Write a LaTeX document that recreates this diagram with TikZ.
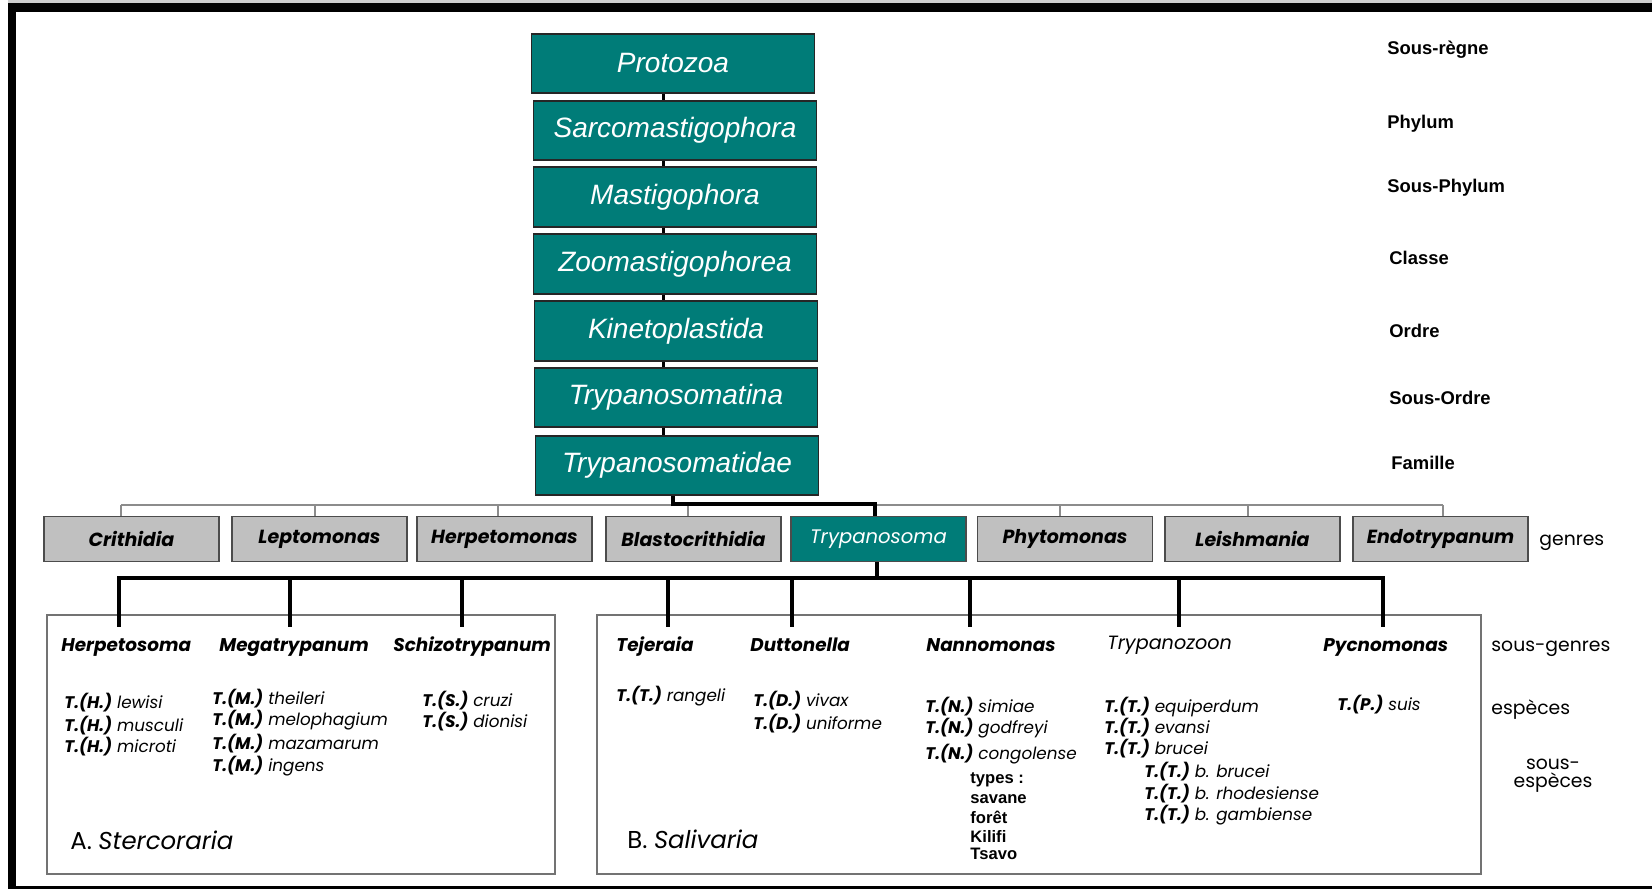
\documentclass[tikz,border=0pt]{standalone}
\usepackage{fontspec}
\setmainfont{Liberation Sans}
\newfontfamily\geo{Poppins}
\usetikzlibrary{calc}
\definecolor{tealc}{RGB}{0,124,120}
\definecolor{grayc}{RGB}{192,192,192}
\newcommand\spname[2]{\textbf{#1} #2}
\begin{document}
\begin{tikzpicture}[x=0.5pt,y=-0.5pt,
  tealbox/.style={draw=black!85, line width=0.9pt, fill=tealc, text=white,
    font=\fontsize{14}{16}\selectfont\itshape, minimum width=141.5pt,
    minimum height=29.8pt, inner sep=0pt},
  genbox/.style={draw=black!70, line width=0.9pt, fill=grayc,
    minimum width=87.5pt, minimum height=22.5pt, inner sep=0pt,
    font=\geo\fontsize{9.5}{11}\selectfont\bfseries\itshape},
  genteal/.style={genbox, fill=tealc, text=white, font=\geo\fontsize{9.8}{11}\selectfont\itshape},
  rank/.style={anchor=west, inner sep=0pt, text height=1.5ex, text depth=.3ex,
    font=\fontsize{9.2}{11}\selectfont\bfseries},
  lvl/.style={anchor=west, inner sep=0pt, text height=1.5ex, text depth=.3ex,
    font=\geo\fontsize{9.4}{11}\selectfont},
  subg/.style={anchor=west, inner sep=0pt, text height=1.5ex, text depth=.3ex,
    font=\geo\fontsize{9.2}{12}\selectfont\bfseries\itshape},
  subgl/.style={subg, font=\geo\fontsize{9.6}{12}\selectfont\itshape},
  spc/.style={anchor=west, inner sep=0pt, text height=1.5ex, text depth=.3ex,
    font=\geo\fontsize{8.4}{10}\selectfont\itshape},
  typ/.style={anchor=west, inner sep=0pt, text height=1.5ex, text depth=.3ex,
    font=\fontsize{8.3}{10}\selectfont\bfseries},
  grp/.style={anchor=west, inner sep=0pt, text height=1.5ex, text depth=.3ex,
    font=\geo\fontsize{12.2}{14}\selectfont},
  conn/.style={draw=black, line width=1.5pt},
  gline/.style={draw=black!45, line width=1pt},
  bline/.style={draw=black, line width=1.6pt},
  cbox/.style={draw=black!55, line width=1pt}
]
\useasboundingbox (0,0) rectangle (1652,889);
% frame
\fill[black!20] (8,0) rectangle (1652,3);
\fill[black] (8,3) rectangle (1652,12);
\fill[black] (8,3) rectangle (16,889);
\fill[black] (8,886) rectangle (1652,889);

% taxonomy stack
\node[tealbox] (proto) at (673,63.5) {Protozoa};
\node[tealbox] (sarco) at (675,130.5) {Sarcomastigophora};
\node[tealbox] (masti) at (675,197) {Mastigophora};
\node[tealbox] (zoo) at (675,264) {Zoomastigophorea};
\node[tealbox] (kin) at (676,331) {Kinetoplastida};
\node[tealbox] (tina) at (676,397.5) {Trypanosomatina};
\node[tealbox] (tidae) at (677,465.5) {Trypanosomatidae};
\coordinate (cx) at (663,0);
\draw[conn] (proto.south -| cx) -- (sarco.north -| cx);
\draw[conn] (sarco.south -| cx) -- (masti.north -| cx);
\draw[conn] (masti.south -| cx) -- (zoo.north -| cx);
\draw[conn] (zoo.south -| cx) -- (kin.north -| cx);
\draw[conn] (kin.south -| cx) -- (tina.north -| cx);
\draw[conn] (tina.south -| cx) -- (tidae.north -| cx);

% ranks
\node[rank] (r1) at (1387,48) {Sous-règne};
\node[rank] (r2) at (1387,122) {Phylum};
\node[rank] (r3) at (1387,186) {Sous-Phylum};
\node[rank] (r4) at (1389,258) {Classe};
\node[rank] (r5) at (1389,331) {Ordre};
\node[rank] (r6) at (1389,398) {Sous-Ordre};
\node[rank] (r7) at (1391,463) {Famille};

% genera
\node[genbox] (crith) at (131.5,539) {Crithidia};
\node[genbox] (lepto) at (319.5,539) {Leptomonas};
\node[genbox] (herp) at (504.5,539) {Herpetomonas};
\node[genbox] (blasto) at (693.5,539) {Blastocrithidia};
\node[genteal] (trypa) at (878.5,539) {Trypanosoma};
\node[genbox] (phyto) at (1065,539) {Phytomonas};
\node[genbox] (leish) at (1252.5,539) {Leishmania};
\node[genbox] (endo) at (1440.5,539) {Endotrypanum};
\node[lvl] (genres) at (1539,539) {genres};

% gray bus to genera
\coordinate (g1) at (121,505);
\coordinate (g2) at (315,505);
\coordinate (g3) at (498,505);
\coordinate (g4) at (688,505);
\coordinate (g6) at (1060,505);
\coordinate (g7) at (1248,505);
\coordinate (g8) at (1443,505);
\draw[gline] (g1) -- (g8);
\draw[gline] (g1) -- (g1 |- crith.north);
\draw[gline] (g2) -- (g2 |- lepto.north);
\draw[gline] (g3) -- (g3 |- herp.north);
\draw[gline] (g4) -- (g4 |- blasto.north);
\draw[gline] (g6) -- (g6 |- phyto.north);
\draw[gline] (g7) -- (g7 |- leish.north);
\draw[gline] (g8) -- (g8 |- endo.north);

% black path to Trypanosoma
\coordinate (fam) at (673,504);
\coordinate (tj) at (875,504);
\draw[bline, line join=miter] (tidae.south -| fam) -- (fam) -- (tj) -- (tj |- trypa.north);

% groups boxes
\draw[cbox] (47,615) rectangle (555,874);
\draw[cbox] (597,615) rectangle (1481,874);

% black bus to subgenera
\coordinate (tb) at (877,578);
\draw[bline] (trypa.south -| tb) -- (tb);
\coordinate (e1) at (119,627);
\coordinate (e2) at (290,627);
\coordinate (e3) at (462,627);
\coordinate (e4) at (668,627);
\coordinate (e5) at (792,627);
\coordinate (e6) at (970,627);
\coordinate (e7) at (1179,627);
\coordinate (e8) at (1383,627);
\draw[bline, line cap=rect] (e1 |- tb) -- (e8 |- tb);
\foreach \k in {1,...,8} { \draw[bline] (e\k |- tb) -- (e\k); }

% subgenera
\node[subg] (sg1) at (61,645) {Herpetosoma};
\node[subg] (sg2) at (219,645) {Megatrypanum};
\node[subg] (sg3) at (393,645) {Schizotrypanum};
\node[subg] (sg4) at (616,645) {Tejeraia};
\node[subg] (sg5) at (750,645) {Duttonella};
\node[subg] (sg6) at (926,645) {Nannomonas};
\node[subgl] (sg7) at (1107,643) {Trypanozoon};
\node[subg] (sg8) at (1323,645) {Pycnomonas};
\node[lvl] (lsg) at (1491,645) {sous-genres};

% species A
\node[spc] (a1) at (64,702) {\spname{T.(H.)}{lewisi}};
\node[spc] (a2) at (64,725) {\spname{T.(H.)}{musculi}};
\node[spc] (a3) at (64,746) {\spname{T.(H.)}{microti}};
\node[spc] (a4) at (212,698) {\spname{T.(M.)}{theileri}};
\node[spc] (a5) at (212,719) {\spname{T.(M.)}{melophagium}};
\node[spc] (a6) at (212,743) {\spname{T.(M.)}{mazamarum}};
\node[spc] (a7) at (212,765) {\spname{T.(M.)}{ingens}};
\node[spc] (a8) at (422,700) {\spname{T.(S.)}{cruzi}};
\node[spc] (a9) at (422,721) {\spname{T.(S.)}{dionisi}};
\node[grp] (ga) at (70,843) {A. \textit{Stercoraria}};

% species B
\node[spc] (b1) at (616,695) {\spname{T.(T.)}{rangeli}};
\node[spc] (b2) at (753,700) {\spname{T.(D.)}{vivax}};
\node[spc] (b3) at (753,723) {\spname{T.(D.)}{uniforme}};
\node[spc] (b4) at (925,706) {\spname{T.(N.)}{simiae}};
\node[spc] (b5) at (925,727) {\spname{T.(N.)}{godfreyi}};
\node[spc] (b6) at (925,753) {\spname{T.(N.)}{congolense}};
\node[typ] (t1) at (970,777) {types :};
\node[typ] (t2) at (970,797) {savane};
\node[typ] (t3) at (970,817) {forêt};
\node[typ] (t4) at (970,836) {Kilifi};
\node[typ] (t5) at (970,853) {Tsavo};
\node[spc] (b7) at (1104,706) {\spname{T.(T.)}{equiperdum}};
\node[spc] (b8) at (1104,727) {\spname{T.(T.)}{evansi}};
\node[spc] (b9) at (1104,748) {\spname{T.(T.)}{brucei}};
\node[spc] (b10) at (1144,771) {\spname{T.(T.)}{b. brucei}};
\node[spc] (b11) at (1144,793) {\spname{T.(T.)}{b. rhodesiense}};
\node[spc] (b12) at (1144,814) {\spname{T.(T.)}{b. gambiense}};
\node[spc] (b13) at (1337,704) {\spname{T.(P.)}{suis}};
\node[grp] (gb) at (627,842) {B. \textit{Salivaria}};

% level labels
\node[lvl] (lesp) at (1491,708) {espèces};
\node[inner sep=0pt, align=center, font=\geo\fontsize{9.4}{9}\selectfont] (lsesp) at (1553,776) {sous-\\espèces};
\end{tikzpicture}
\end{document}
